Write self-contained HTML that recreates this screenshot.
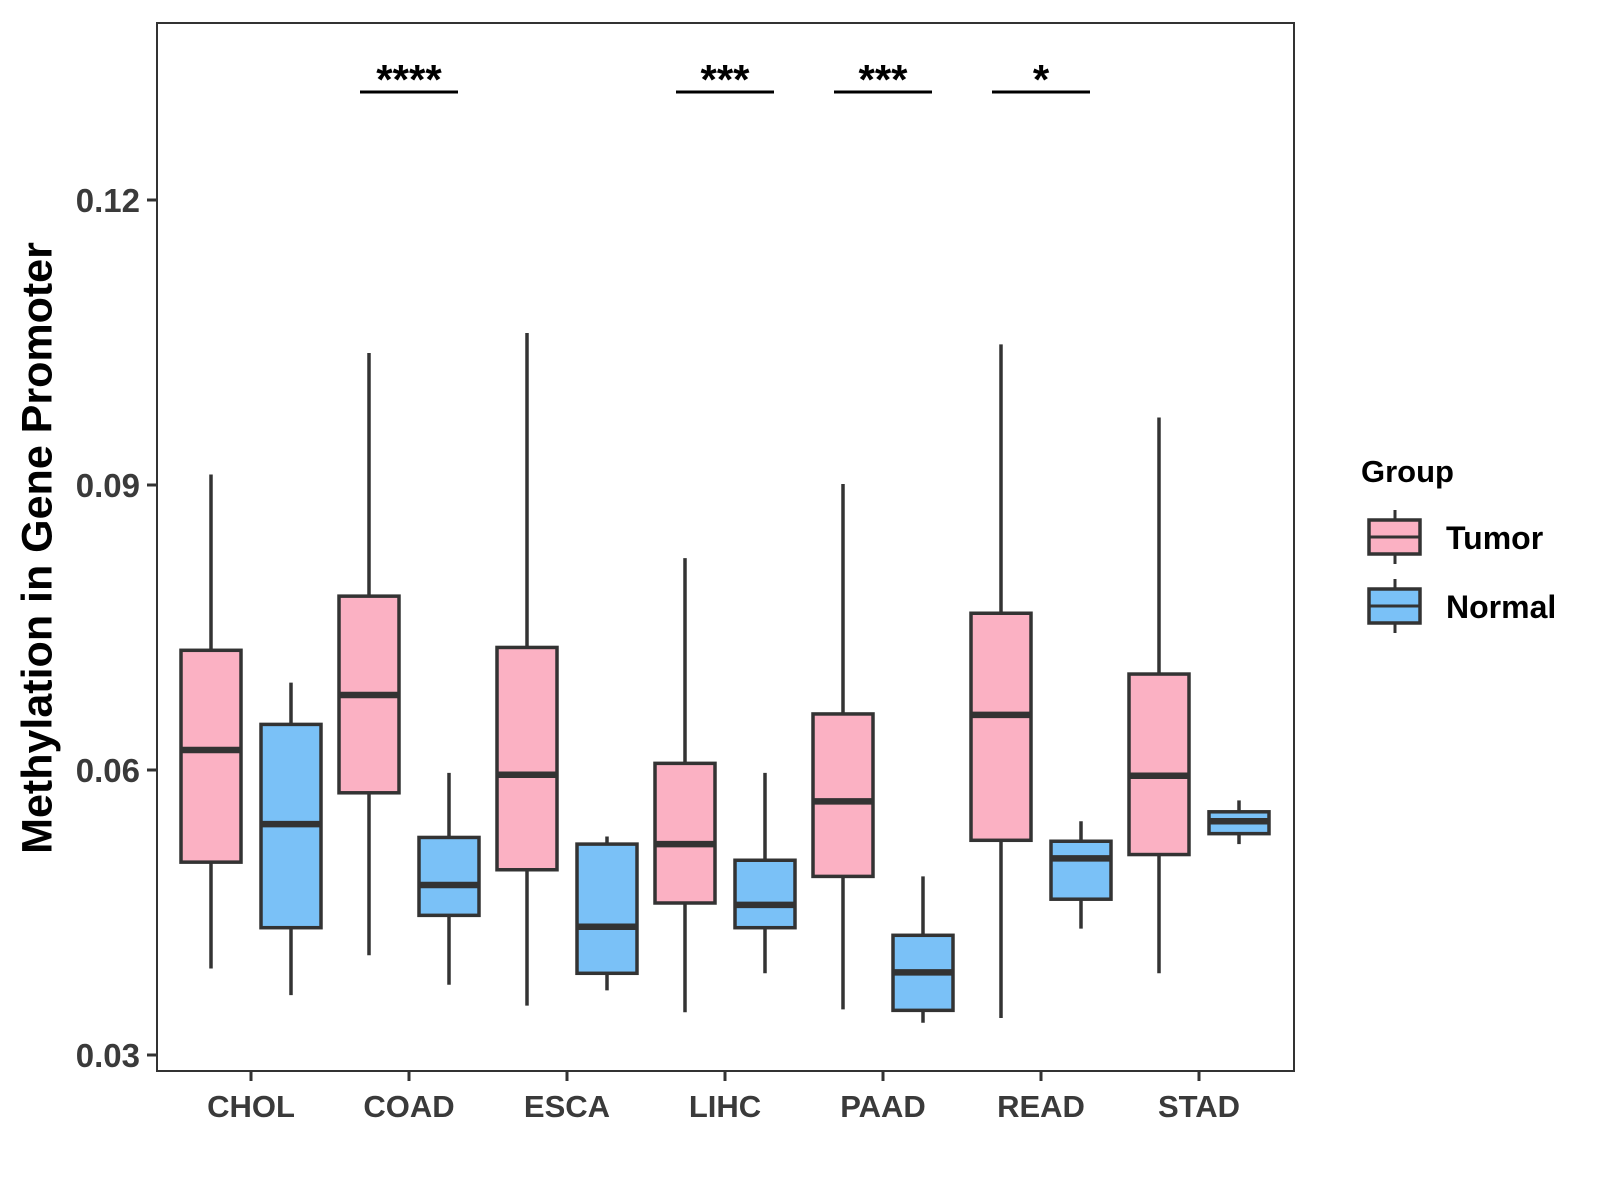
<!DOCTYPE html>
<html><head><meta charset="utf-8"><style>
html,body{margin:0;padding:0;background:#fff;}
svg{display:block;font-family:"Liberation Sans",sans-serif;}
</style></head><body>
<svg id="chart" width="1600" height="1200" viewBox="0 0 1600 1200" xmlns="http://www.w3.org/2000/svg">
<rect x="0" y="0" width="1600" height="1200" fill="#fff"/>
<g id="marks"></g>
<rect x="157" y="23" width="1137" height="1048" fill="none" stroke="#333" stroke-width="2"/>
<g id="axes"></g>
<text x="40" y="548" transform="rotate(-90 40 548)" text-anchor="middle" dominant-baseline="middle" font-size="43" font-weight="bold" fill="#000">Methylation in Gene Promoter</text>
<g>
<text x="1361" y="482" font-size="31" font-weight="bold" fill="#000">Group</text>
<g>
<line x1="1395" y1="510" x2="1395" y2="564" stroke="#333" stroke-width="3"/>
<rect x="1369" y="520" width="51" height="34" fill="#FBB1C3" stroke="#333" stroke-width="3.5"/>
<line x1="1369" y1="537" x2="1420" y2="537" stroke="#333" stroke-width="3"/>
<text x="1446" y="549" font-size="32" font-weight="bold" fill="#000">Tumor</text>
</g>
<g>
<line x1="1395" y1="579" x2="1395" y2="633" stroke="#333" stroke-width="3"/>
<rect x="1369" y="589" width="51" height="34" fill="#7AC1F7" stroke="#333" stroke-width="3.5"/>
<line x1="1369" y1="606" x2="1420" y2="606" stroke="#333" stroke-width="3"/>
<text x="1446" y="618" font-size="32" font-weight="bold" fill="#000">Normal</text>
</g>
</g>
</svg>
<script>
const categories = ["CHOL","COAD","ESCA","LIHC","PAAD","READ","STAD"];
// [lower whisker, Q1, median, Q3, upper whisker]
const tumorStats = [
 [0.0391,0.0503,0.0621,0.0726,0.0911],
 [0.0405,0.0576,0.0679,0.0783,0.1039],
 [0.0352,0.0495,0.0595,0.0729,0.1060],
 [0.0345,0.0460,0.0522,0.0607,0.0823],
 [0.0348,0.0488,0.0567,0.0659,0.0901],
 [0.0339,0.0526,0.0658,0.0765,0.1048],
 [0.0386,0.0511,0.0594,0.0701,0.0971]
];
const normalStats = [
 [0.0363,0.0434,0.0543,0.0648,0.0692],
 [0.0374,0.0447,0.0479,0.0529,0.0597],
 [0.0368,0.0386,0.0435,0.0522,0.0530],
 [0.0386,0.0434,0.0458,0.0505,0.0597],
 [0.0334,0.0347,0.0387,0.0426,0.0488],
 [0.0433,0.0464,0.0507,0.0525,0.0546],
 [0.0522,0.0533,0.0546,0.0556,0.0568]
];
const yTicks = [0.03,0.06,0.09,0.12];
const yTickLabels = ["0.03","0.06","0.09","0.12"];
const sigLabels = ["","****","","***","***","*",""];

const NS="http://www.w3.org/2000/svg";
function yScale(v){ return 1055 - (v-0.03)/0.03*285; }
function xScale(i){ return 251 + i*158; }
function mk(tag, attrs, parent){
  const e=document.createElementNS(NS,tag);
  for(const k in attrs) e.setAttribute(k,attrs[k]);
  parent.appendChild(e); return e;
}
const marks=document.getElementById('marks');
const axes=document.getElementById('axes');
const BW=60, OFF=40;
function drawBox(stats, cx, fill, name){
  const g=mk('g',{},marks);
  
  
  const [lo,q1,md,q3,hi]=stats;
  mk('line',{x1:cx,x2:cx,y1:yScale(hi),y2:yScale(lo),stroke:'#333','stroke-width':3.5},g);
  mk('rect',{x:cx-BW/2,y:yScale(q3),width:BW,height:yScale(q1)-yScale(q3),fill:fill,stroke:'#333','stroke-width':3.5},g);
  mk('line',{x1:cx-BW/2,x2:cx+BW/2,y1:yScale(md),y2:yScale(md),stroke:'#333','stroke-width':6.5},g);
}
categories.forEach((c,i)=>{
  const cx=xScale(i);
  drawBox(tumorStats[i], cx-OFF, '#FBB1C3', 'box-tumor-'+c.toLowerCase());
  drawBox(normalStats[i], cx+OFF, '#7AC1F7', 'box-normal-'+c.toLowerCase());
  const t=mk('line',{x1:cx,x2:cx,y1:1071,y2:1081,stroke:'#333','stroke-width':3},axes);
  
  
  const lab=mk('text',{x:cx,y:1117,'text-anchor':'middle','font-size':31,'font-weight':'bold',fill:'#3a3a3a'},axes);
  lab.textContent=c;
  
  
  if(sigLabels[i]){
    const bar=mk('line',{x1:cx-49,x2:cx+49,y1:92,y2:92,stroke:'#000','stroke-width':3},marks);
    
    
    const st=mk('text',{x:cx,y:94,'text-anchor':'middle','font-size':42,'font-weight':'bold',fill:'#000'},marks);
    st.textContent=sigLabels[i];
    
    
  }
});
yTicks.forEach((v,i)=>{
  const y=yScale(v);
  const t=mk('line',{x1:147,x2:157,y1:y,y2:y,stroke:'#333','stroke-width':3},axes);
  
  
  const lab=mk('text',{x:140,y:y+12,'text-anchor':'end','font-size':33,'font-weight':'bold',fill:'#3a3a3a'},axes);
  lab.textContent=yTickLabels[i];
  
  
});
</script>
</body></html>
